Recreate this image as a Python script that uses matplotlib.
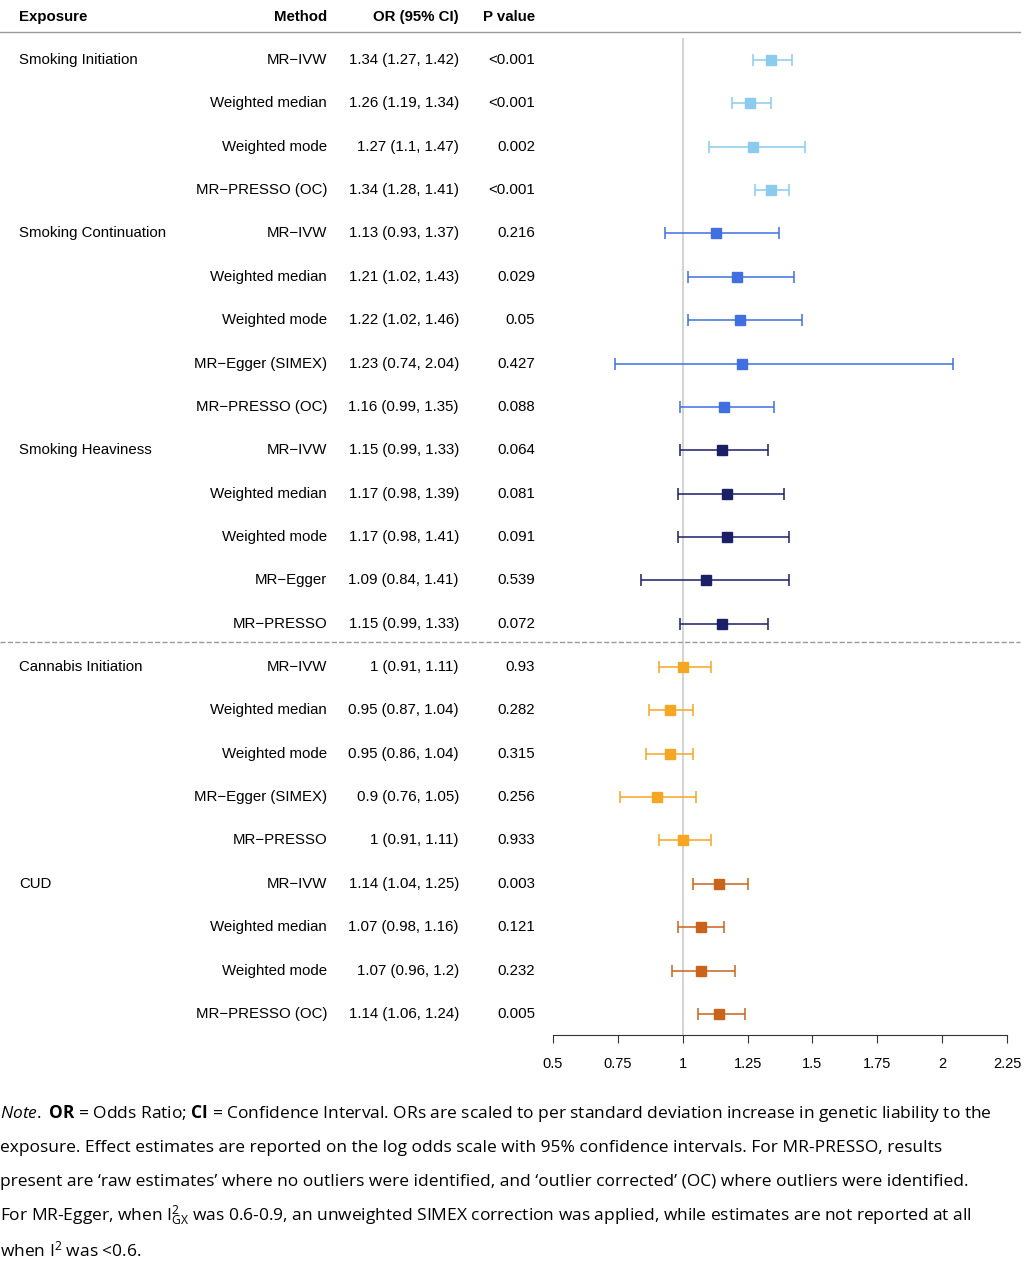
import matplotlib
matplotlib.use("Agg")
import matplotlib.pyplot as plt
from matplotlib.transforms import blended_transform_factory

plt.rcParams["font.family"] = ["Liberation Sans", "DejaVu Sans"]
plt.rcParams["mathtext.fontset"] = "custom"
plt.rcParams["mathtext.rm"] = "Open Sans"
plt.rcParams["mathtext.it"] = "Open Sans:italic"
plt.rcParams["mathtext.bf"] = "Open Sans:bold"

# Data
exposures = ["Smoking Initiation", "", "", "",
             "Smoking Continuation", "", "", "", "",
             "Smoking Heaviness", "", "", "", "",
             "Cannabis Initiation", "", "", "", "",
             "CUD", "", "", ""]
methods = ["MR\u2212IVW", "Weighted median", "Weighted mode", "MR\u2212PRESSO (OC)",
           "MR\u2212IVW", "Weighted median", "Weighted mode", "MR\u2212Egger (SIMEX)", "MR\u2212PRESSO (OC)",
           "MR\u2212IVW", "Weighted median", "Weighted mode", "MR\u2212Egger", "MR\u2212PRESSO",
           "MR\u2212IVW", "Weighted median", "Weighted mode", "MR\u2212Egger (SIMEX)", "MR\u2212PRESSO",
           "MR\u2212IVW", "Weighted median", "Weighted mode", "MR\u2212PRESSO (OC)"]
or_est = [1.34, 1.26, 1.27, 1.34,
          1.13, 1.21, 1.22, 1.23, 1.16,
          1.15, 1.17, 1.17, 1.09, 1.15,
          1, 0.95, 0.95, 0.9, 1,
          1.14, 1.07, 1.07, 1.14]
ci_lo = [1.27, 1.19, 1.1, 1.28,
         0.93, 1.02, 1.02, 0.74, 0.99,
         0.99, 0.98, 0.98, 0.84, 0.99,
         0.91, 0.87, 0.86, 0.76, 0.91,
         1.04, 0.98, 0.96, 1.06]
ci_hi = [1.42, 1.34, 1.47, 1.41,
         1.37, 1.43, 1.46, 2.04, 1.35,
         1.33, 1.39, 1.41, 1.41, 1.33,
         1.11, 1.04, 1.04, 1.05, 1.11,
         1.25, 1.16, 1.2, 1.24]
p_values = ["<0.001", "<0.001", "0.002", "<0.001",
            "0.216", "0.029", "0.05", "0.427", "0.088",
            "0.064", "0.081", "0.091", "0.539", "0.072",
            "0.93", "0.282", "0.315", "0.256", "0.933",
            "0.003", "0.121", "0.232", "0.005"]
group_sizes = [4, 5, 5, 5, 4]
group_colors = ["#8ccbee", "#3f6fe0", "#1b1f66", "#f5a623", "#c8651b"]
x_ticks = [0.5, 0.75, 1, 1.25, 1.5, 1.75, 2, 2.25]

W, H = 1031, 1280
fig = plt.figure(figsize=(W / 100, H / 100), dpi=100)

# forest axes: x 553..1007 px, y 38..1035 px
ax = fig.add_axes([553 / W, 1 - 1035 / H, 454 / W, (1035 - 38) / H])
n = len(methods)
step = 43.36
ax.set_ylim(22 + (1035 - 60 - 22 * step) / step, -(60 - 38) / step)
ax.set_xlim(0.5, 2.25)

colors = []
for c, s in zip(group_colors, group_sizes):
    colors += [c] * s
for i in range(n):
    ax.errorbar(or_est[i], i, xerr=[[or_est[i] - ci_lo[i]], [ci_hi[i] - or_est[i]]],
                fmt="s", color=colors[i], ms=7, capsize=4, elinewidth=1.1, capthick=1.1)
ax.axvline(1, color="#cccccc", lw=1.2, zorder=0)

for sp in ["top", "right", "left"]:
    ax.spines[sp].set_visible(False)
ax.spines["bottom"].set_color("#333333")
ax.set_yticks([])
ax.set_xticks(x_ticks)
ax.set_xticklabels([f"{t:g}" for t in x_ticks], fontsize=10.5)
ax.tick_params(axis="x", length=6, pad=10, color="#333333")

# text columns
tr = blended_transform_factory(fig.transFigure, ax.transData)
fs = 10.8
for i in range(n):
    if exposures[i]:
        ax.text(19 / W, i, exposures[i], transform=tr, ha="left", va="center", fontsize=fs)
    ax.text(327 / W, i, methods[i], transform=tr, ha="right", va="center", fontsize=fs)
    lab = f"{or_est[i]:g} ({ci_lo[i]:g}, {ci_hi[i]:g})"
    ax.text(459 / W, i, lab, transform=tr, ha="right", va="center", fontsize=fs)
    ax.text(535 / W, i, p_values[i], transform=tr, ha="right", va="center", fontsize=fs)

# header
hy = 1 - 17 / H
fig.text(19 / W, hy, "Exposure", ha="left", va="center", fontsize=fs, fontweight="bold")
fig.text(327 / W, hy, "Method", ha="right", va="center", fontsize=fs, fontweight="bold")
fig.text(459 / W, hy, "OR (95% CI)", ha="right", va="center", fontsize=fs, fontweight="bold")
fig.text(535 / W, hy, "P value", ha="right", va="center", fontsize=fs, fontweight="bold")
fig.add_artist(plt.Line2D([0, 1020 / W], [1 - 32 / H] * 2, color="#999999", lw=1))
fig.add_artist(plt.Line2D([0, 1020 / W], [1 - 642 / H] * 2, color="#999999", lw=1, ls="--"))

# note
note_font = ["Open Sans", "DejaVu Sans"]
note_lines = [
    r"$\it{Note.}$ $\bf{OR}$ = Odds Ratio; $\bf{CI}$ = Confidence Interval. ORs are scaled to per standard deviation increase in genetic liability to the",
    "exposure. Effect estimates are reported on the log odds scale with 95% confidence intervals. For MR-PRESSO, results",
    "present are \u2018raw estimates\u2019 where no outliers were identified, and \u2018outlier corrected\u2019 (OC) where outliers were identified.",
    r"For MR-Egger, when I$^2_{\rm GX}$ was 0.6-0.9, an unweighted SIMEX correction was applied, while estimates are not reported at all",
    r"when I$^2$ was <0.6.",
]
for k, line in enumerate(note_lines):
    fig.text(0 / W, 1 - (1114 + k * 34) / H, line, ha="left", va="center",
             fontsize=12.5, family=note_font)

fig.savefig("out.png", dpi=100)
